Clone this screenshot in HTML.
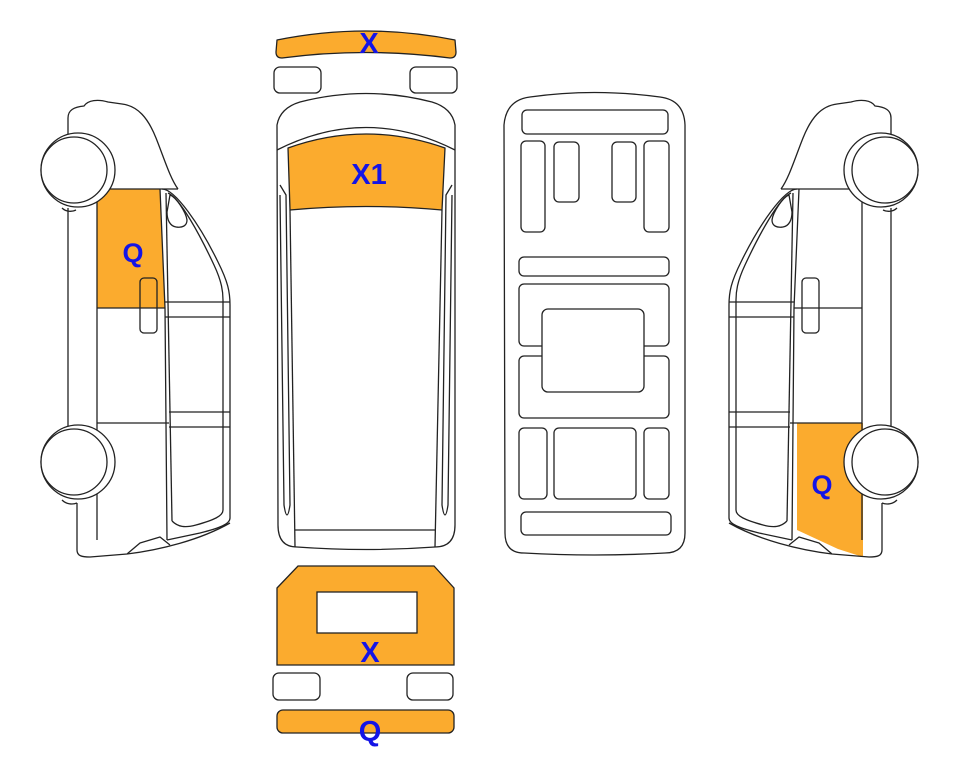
<!DOCTYPE html>
<html><head><meta charset="utf-8"><style>
html,body{margin:0;padding:0;background:#fff;}
svg{display:block;}
text{font-family:"Liberation Sans",sans-serif;font-weight:bold;fill:#1414e6;}
</style></head><body>
<svg width="963" height="768" viewBox="0 0 963 768" xmlns="http://www.w3.org/2000/svg">
<defs>
<g id="van" fill="none" stroke="#222" stroke-width="1.3" stroke-linejoin="round">
  <!-- roof / front profile -->
  <path d="M68,134 L68,118 C68,110 74,107 84,106 C88,100 98,99 108,102 L122,104 C138,106 148,118 156,138 C164,158 170,178 178,189"/>
  <line x1="97" y1="189" x2="178" y2="189"/>
  <!-- left strip -->
  <line x1="68" y1="208" x2="68" y2="428"/>
  <line x1="97" y1="189" x2="97" y2="540"/>
  <path d="M62,208 C66,212 72,212 76,210"/>
  <path d="M62,500 C66,504 72,505 77,503"/>
  <!-- lower body -->
  <path d="M77,503 L77,550 C77,556 82,557 90,557 L127,554 C160,550 200,540 230,523"/>
  <path d="M127,554 L140,543 L160,537 L170,545"/>
  <!-- door frame outer -->
  <path d="M162,189 C175,189 200,225 218,262 C228,282 230,292 230,305 L230,518 C230,524 220,528 200,533 L167,540"/>
  <!-- inner frame -->
  <path d="M168,193 C180,198 200,235 214,265 C222,282 223,292 223,300 L223,510 C223,516 214,520 196,525 C185,528 178,527 172,521"/>
  <!-- pillar -->
  <path d="M160,189 L165,308 L167,540"/>
  <path d="M166,193 L172,521"/>
  <!-- bars -->
  <line x1="165" y1="302" x2="230" y2="302"/>
  <line x1="165" y1="317" x2="230" y2="317"/>
  <line x1="169" y1="412" x2="230" y2="412"/>
  <line x1="169" y1="427" x2="230" y2="427"/>
  <line x1="97" y1="308" x2="165" y2="308"/>
  <line x1="97" y1="423" x2="169" y2="423"/>
  <!-- small window -->
  <path d="M170,195 C176,197 186,212 187,220 C187,226 182,228 176,227 C170,226 167,220 167,212 Z"/>
  <!-- handle -->
  <rect x="140" y="278" width="17" height="55" rx="4"/>
  <!-- wheels -->
  <circle cx="78" cy="170" r="37" fill="#fff"/>
  <circle cx="74" cy="170" r="33" fill="#fff"/>
  <circle cx="78" cy="462" r="37" fill="#fff"/>
  <circle cx="74" cy="462" r="33" fill="#fff"/>
</g>
</defs>

<!-- left van -->
<path d="M97,189 L160,189 L165,308 L97,308 Z" fill="#fbab2e" stroke="none"/>
<use href="#van"/>
<text x="133" y="262" font-size="27" text-anchor="middle">Q</text>

<!-- right van (mirrored) -->
<g transform="translate(959,0) scale(-1,1)">
  <path d="M96,423 L162,423 L162,530 L121,549 L96,557 Z" fill="#fbab2e" stroke="none"/>
  <use href="#van"/>
</g>
<text x="822" y="494" font-size="27" text-anchor="middle">Q</text>

<!-- top view -->
<g fill="none" stroke="#222" stroke-width="1.3" stroke-linejoin="round">
  <path d="M277,40 Q366,22 455,40 L456,52 Q456,58 450,58 Q366,47 282,58 Q276,58 276,52 Z" fill="#fbab2e"/>
  <rect x="274" y="67" width="47" height="26" rx="6" fill="#fff"/>
  <rect x="410" y="67" width="47" height="26" rx="6" fill="#fff"/>
  <path d="M277,125 Q280,108 300,102 Q366,85 432,102 Q452,108 455,125 L455,525 Q455,547 435,547 Q366,552 297,547 Q278,547 278,525 Z"/>
  <path d="M277,150 Q366,105 455,150"/>
  <path d="M288,148 Q366,120 445,148 L442,210 Q366,203 290,210 Z" fill="#fbab2e"/>
  <path d="M290,210 L295,547"/>
  <path d="M442,210 L435,547"/>
  <line x1="295" y1="530" x2="435" y2="530"/>
  <path d="M280,185 L286,195 L290,505 Q287,525 284,505 L280,195"/>
  <path d="M452,185 L446,195 L442,505 Q445,525 448,505 L452,195"/>
</g>
<text x="369" y="53" font-size="29" text-anchor="middle">X</text>
<text x="369" y="184" font-size="29" text-anchor="middle">X1</text>

<!-- underside -->
<g fill="#fff" stroke="#222" stroke-width="1.3">
  <path d="M504,125 Q506,100 530,97 Q594,88 660,97 Q684,100 685,125 L685,533 Q685,553 665,553 Q594,557 524,553 Q505,553 505,533 Z"/>
  <rect x="522" y="110" width="146" height="24" rx="5"/>
  <rect x="521" y="141" width="24" height="91" rx="5"/>
  <rect x="554" y="142" width="25" height="60" rx="5"/>
  <rect x="612" y="142" width="24" height="60" rx="5"/>
  <rect x="644" y="141" width="25" height="91" rx="5"/>
  <rect x="519" y="257" width="150" height="19" rx="5"/>
  <rect x="519" y="284" width="150" height="62" rx="5"/>
  <rect x="519" y="356" width="150" height="62" rx="5"/>
  <rect x="542" y="309" width="102" height="83" rx="6"/>
  <rect x="519" y="428" width="28" height="71" rx="5"/>
  <rect x="554" y="428" width="82" height="71" rx="5"/>
  <rect x="644" y="428" width="25" height="71" rx="5"/>
  <rect x="521" y="512" width="150" height="23" rx="5"/>
</g>

<!-- rear view -->
<g stroke="#222" stroke-width="1.3">
  <path d="M277,588 L298,566 L434,566 L454,588 L454,665 L277,665 Z" fill="#fbab2e"/>
  <rect x="317" y="592" width="100" height="41" fill="#fff"/>
  <rect x="273" y="673" width="47" height="27" rx="6" fill="#fff"/>
  <rect x="407" y="673" width="46" height="27" rx="6" fill="#fff"/>
  <rect x="277" y="710" width="177" height="23" rx="6" fill="#fbab2e"/>
</g>
<text x="370" y="662" font-size="29" text-anchor="middle">X</text>
<text x="370" y="741" font-size="29" text-anchor="middle">Q</text>
</svg>
</body></html>
